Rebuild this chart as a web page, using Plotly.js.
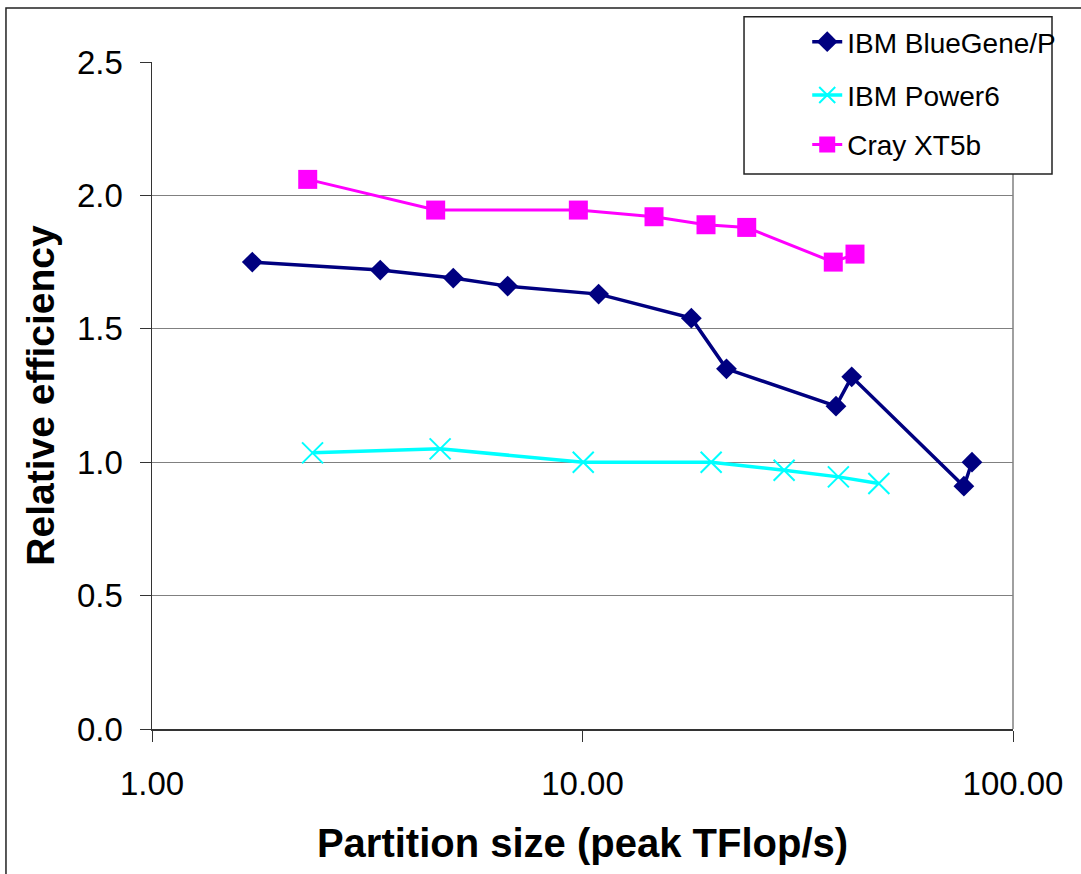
<!DOCTYPE html>
<html>
<head>
<meta charset="utf-8">
<script src="https://cdn.plot.ly/plotly-3.0.1.min.js"></script>
<style>
  html, body { margin: 0; padding: 0; background: #fff; }
  #chart { width: 1081px; height: 874px; }
</style>
</head>
<body>
<div id="chart"></div>
<script>
// Data
const seriesNames = ['IBM BlueGene/P', 'IBM Power6', 'Cray XT5b'];

const bgX = [1.71, 3.39, 5.01, 6.70, 10.9, 17.9, 21.6, 38.8, 42.2, 76.9, 80.3];
const bgY = [1.75, 1.72, 1.69, 1.66, 1.63, 1.54, 1.35, 1.21, 1.32, 0.91, 1.00];

const p6X = [2.36, 4.67, 10.04, 19.9, 29.4, 39.3, 48.8];
const p6Y = [1.035, 1.05, 1.00, 1.00, 0.97, 0.945, 0.92];

const crX = [2.30, 4.56, 9.78, 14.66, 19.36, 24.07, 38.24, 42.95];
const crY = [2.06, 1.945, 1.945, 1.92, 1.89, 1.88, 1.75, 1.78];

const xTickVals = [1, 10, 100];
const xTickText = ['1.00', '10.00', '100.00'];
const yTickVals = [0, 0.5, 1.0, 1.5, 2.0, 2.5];
const yTickText = ['0.0', '0.5', '1.0', '1.5', '2.0', '2.5'];

const FONT = 'Liberation Sans, Arial, sans-serif';

const traces = [
  {
    x: bgX, y: bgY, name: seriesNames[0], type: 'scatter', mode: 'lines+markers',
    line: { color: '#000080', width: 3.5 },
    marker: { symbol: 'diamond', size: 16, color: '#000080', line: { width: 0 } },
    legend: 'legend'
  },
  {
    x: p6X, y: p6Y, name: seriesNames[1], type: 'scatter', mode: 'lines+markers',
    line: { color: '#00FFFF', width: 3.5 },
    marker: { symbol: 'x-thin-open', size: 21, color: '#00FFFF', line: { width: 2, color: '#00FFFF' } },
    legend: 'legend2'
  },
  {
    x: crX, y: crY, name: seriesNames[2], type: 'scatter', mode: 'lines+markers',
    line: { color: '#FF00FF', width: 3 },
    marker: { symbol: 'square', size: 19, color: '#FF00FF', line: { width: 0 } },
    legend: 'legend3'
  }
];

const legendFont = { family: FONT, size: 28, color: '#000' };
const legendBase = {
  bgcolor: 'rgba(0,0,0,0)', borderwidth: 0, font: legendFont,
  xanchor: 'left', yanchor: 'middle', x: 0.761
};

const layout = {
  width: 1081, height: 874,
  margin: { l: 152, r: 68, t: 62, b: 145 },
  paper_bgcolor: '#fff', plot_bgcolor: '#fff',
  font: { family: FONT, color: '#000' },
  showlegend: true,
  xaxis: {
    type: 'log', range: [0, 2],
    tickvals: xTickVals, ticktext: xTickText,
    ticks: 'outside', ticklen: 11, tickcolor: '#333', tickwidth: 1,
    tickfont: { family: FONT, size: 33, color: '#000' },
    ticklabelstandoff: 14,
    showgrid: false, zeroline: false,
    showline: true, linecolor: '#333', linewidth: 1.5,
    title: { text: '<b>Partition size (peak TFlop/s)</b>', font: { family: FONT, size: 40, color: '#000' }, standoff: 28 }
  },
  yaxis: {
    range: [0, 2.5],
    tickvals: yTickVals, ticktext: yTickText,
    ticks: 'outside', ticklen: 11, tickcolor: '#333', tickwidth: 1,
    tickfont: { family: FONT, size: 33, color: '#000' },
    ticklabelstandoff: 10,
    showgrid: true, gridcolor: '#808080', gridwidth: 1,
    zeroline: false,
    showline: true, linecolor: '#333', linewidth: 1.5,
    title: { text: '<b>Relative efficiency</b>', font: { family: FONT, size: 39, color: '#000' }, standoff: 10 }
  },
  legend: Object.assign({}, legendBase, { y: 1.030 }),
  legend2: Object.assign({}, legendBase, { y: 0.950 }),
  legend3: Object.assign({}, legendBase, { y: 0.876 }),
  shapes: [
    // outer chart border
    { type: 'rect', xref: 'paper', yref: 'paper', x0: -0.1696, x1: 1.3, y0: -0.4, y1: 1.081,
      line: { color: '#222', width: 1.5 }, fillcolor: 'rgba(0,0,0,0)', layer: 'below' },
    // right plot-area border
    { type: 'line', xref: 'paper', yref: 'paper', x0: 1, x1: 1, y0: 0, y1: 1,
      line: { color: '#808080', width: 1.5 }, layer: 'below' },
    // legend box
    { type: 'rect', xref: 'paper', yref: 'paper', x0: 0.6876, x1: 1.0453, y0: 0.8321, y1: 1.0679,
      line: { color: '#222', width: 1.5 }, fillcolor: '#fff', layer: 'above' }
  ]
};

Plotly.newPlot('chart', traces, layout, { displayModeBar: false, staticPlot: true });
</script>
</body>
</html>
